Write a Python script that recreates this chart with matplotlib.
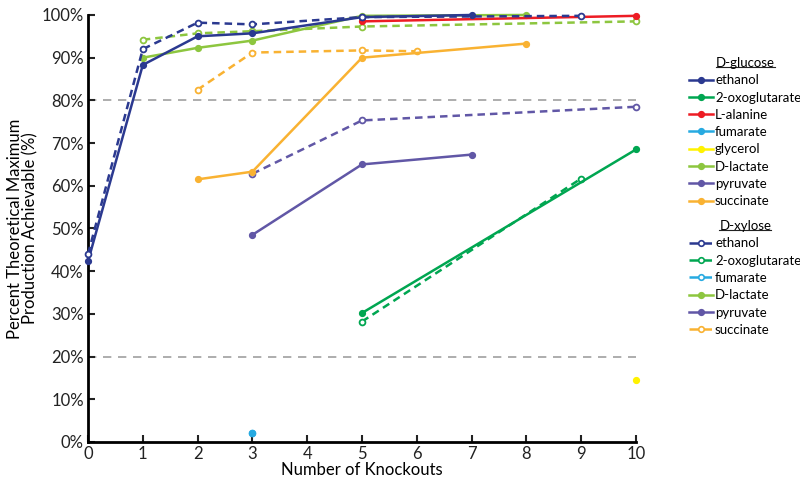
import numpy as np
import matplotlib.pyplot as plt
from matplotlib.lines import Line2D

plt.rcParams['font.family'] = ['Lato', 'DejaVu Sans']

# knockouts / percent of theoretical max
glc_ethanol_x = [0, 1, 2, 3, 5, 7]
glc_ethanol_y = [42.3, 88.3, 95.0, 95.7, 99.5, 100.0]
glc_oxo_x = [5, 10]
glc_oxo_y = [30.2, 68.5]
glc_alanine_x = [5, 10]
glc_alanine_y = [98.5, 99.8]
glc_fumarate_x = [3]
glc_fumarate_y = [2.0]
glc_glycerol_x = [10]
glc_glycerol_y = [14.5]
glc_lactate_x = [1, 2, 3, 5, 8]
glc_lactate_y = [90.0, 92.3, 94.0, 99.8, 100.0]
glc_pyruvate_x = [3, 5, 7]
glc_pyruvate_y = [48.5, 65.0, 67.3]
glc_succinate_x = [2, 3, 5, 8]
glc_succinate_y = [61.5, 63.3, 90.0, 93.3]

xyl_ethanol_x = [0, 1, 2, 3, 5, 9]
xyl_ethanol_y = [44.0, 92.0, 98.2, 97.8, 99.5, 99.8]
xyl_oxo_x = [5, 9]
xyl_oxo_y = [28.2, 61.7]
xyl_fumarate_x = [3]
xyl_fumarate_y = [2.0]
xyl_lactate_x = [1, 2, 3, 5, 10]
xyl_lactate_y = [94.2, 95.7, 96.2, 97.3, 98.5]
xyl_pyruvate_x = [3, 5, 10]
xyl_pyruvate_y = [62.8, 75.3, 78.5]
xyl_succinate_x = [2, 3, 5, 6]
xyl_succinate_y = [82.5, 91.2, 91.7, 91.5]

c_eth = '#2b3990'
c_oxo = '#00a651'
c_ala = '#ed1c24'
c_fum = '#27aae1'
c_gly = '#fff200'
c_lac = '#8dc63f'
c_pyr = '#6157a6'
c_suc = '#f9b232'

fig = plt.figure(figsize=(8, 4.83), dpi=100)
ax = fig.add_axes([0.11, 0.085, 0.685, 0.884])

ax.axhline(20, color='#a0a0a0', lw=1.2, ls=(0, (5, 4)), zorder=1)
ax.axhline(80, color='#a0a0a0', lw=1.2, ls=(0, (5, 4)), zorder=1)

def solid(x, y, c):
    ax.plot(x, y, '-o', color=c, lw=1.8, ms=4.2, mfc=c, mec=c, clip_on=False, zorder=3)

def dashed(x, y, c):
    ax.plot(x, y, '--o', color=c, lw=1.8, ms=4.2, mfc='white', mec=c, mew=1.3,
            dashes=(3, 2), clip_on=False, zorder=3)

dashed(xyl_lactate_x, xyl_lactate_y, c_lac)
dashed(xyl_succinate_x, xyl_succinate_y, c_suc)
dashed(xyl_pyruvate_x, xyl_pyruvate_y, c_pyr)
dashed(xyl_oxo_x, xyl_oxo_y, c_oxo)
dashed(xyl_fumarate_x, xyl_fumarate_y, c_fum)
solid(glc_succinate_x, glc_succinate_y, c_suc)
solid(glc_pyruvate_x, glc_pyruvate_y, c_pyr)
solid(glc_oxo_x, glc_oxo_y, c_oxo)
solid(glc_fumarate_x, glc_fumarate_y, c_fum)
solid(glc_glycerol_x, glc_glycerol_y, c_gly)
solid(glc_lactate_x, glc_lactate_y, c_lac)
solid(glc_alanine_x, glc_alanine_y, c_ala)
solid(glc_ethanol_x, glc_ethanol_y, c_eth)
dashed(xyl_ethanol_x, xyl_ethanol_y, c_eth)

ax.set_xlim(0, 10)
ax.set_ylim(0, 100)
ax.set_xticks(range(0, 11))
ax.set_yticks(range(0, 101, 10))
ax.set_yticklabels([f'{v}%' for v in range(0, 101, 10)])
ax.tick_params(direction='in', length=5, width=1.5, labelsize=12, colors='#222222', pad=3)
for s in ['top', 'right']:
    ax.spines[s].set_visible(False)
for s in ['left', 'bottom']:
    ax.spines[s].set_linewidth(2)
ax.set_xlabel('Number of Knockouts', fontsize=12, labelpad=0)
ax.set_ylabel('Percent Theoretical Maximum\nProduction Achievable (%)', fontsize=12,
              linespacing=1.0, labelpad=2)

def h(c, ls, filled):
    return Line2D([], [], color=c, ls=ls, lw=1.8, marker='o', ms=4,
                  mfc=c if filled else 'white', mec=c, mew=1.2)

glc_labels = ['ethanol', '2-oxoglutarate', 'L-alanine', 'fumarate', 'glycerol',
              'D-lactate', 'pyruvate', 'succinate']
glc_handles = [h(c_eth, '-', True), h(c_oxo, '-', True), h(c_ala, '-', True),
               h(c_fum, '-', True), h(c_gly, '-', True), h(c_lac, '-', True),
               h(c_pyr, '-', True), h(c_suc, '-', True)]
xyl_labels = ['ethanol', '2-oxoglutarate', 'fumarate', 'D-lactate', 'pyruvate', 'succinate']
xyl_handles = [h(c_eth, '--', False), h(c_oxo, '--', False), h(c_fum, '--', False),
               h(c_lac, '-', True), h(c_pyr, '-', True), h(c_suc, '--', False)]

kw = dict(frameon=False, fontsize=9.5, handlelength=1.8, handletextpad=0.15,
          labelspacing=0.4, borderaxespad=0, title_fontsize=9.5)
leg1 = fig.legend(glc_handles, glc_labels, title='D-glucose', loc='upper left',
                  bbox_to_anchor=(0.855, 0.893), **kw)
leg2 = fig.legend(xyl_handles, xyl_labels, title='D-xylose', loc='upper left',
                  bbox_to_anchor=(0.855, 0.555), **kw)

fig.canvas.draw()
r = fig.canvas.get_renderer()
for leg in (leg1, leg2):
    bb = leg.get_title().get_window_extent(r).transformed(fig.transFigure.inverted())
    fig.add_artist(Line2D([bb.x0, bb.x1], [bb.y0 + 0.004, bb.y0 + 0.004],
                          color='#222222', lw=0.8, transform=fig.transFigure))

fig.savefig('out.png', dpi=100)
